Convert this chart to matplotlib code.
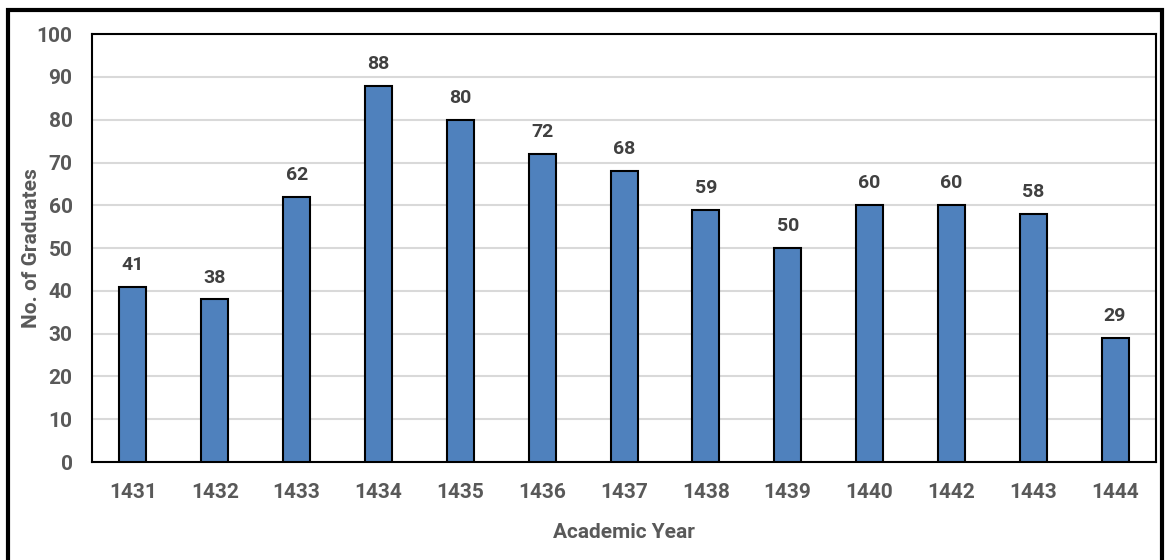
import matplotlib.pyplot as plt
import numpy as np
from matplotlib.patches import Rectangle

# chart data
years = ['1431', '1432', '1433', '1434', '1435', '1436', '1437',
         '1438', '1439', '1440', '1442', '1443', '1444']
graduates = [41, 38, 62, 88, 80, 72, 68, 59, 50, 60, 60, 58, 29]

plt.rcParams['font.family'] = ['Roboto', 'DejaVu Sans']
grey = '#595959'

fig = plt.figure(figsize=(11.68, 5.6), dpi=100)
ax = fig.add_axes([0.0788, 0.175, 0.9109, 0.764])

x = np.arange(len(years))
ax.bar(x, graduates, width=0.33, color='#4F81BD', edgecolor='black', linewidth=1.5, zorder=3)

for xi, v in zip(x, graduates):
    ax.text(xi, v + 3, str(v), ha='center', va='bottom', fontsize=14,
            fontweight='bold', color='#404040')

ax.set_xlim(-0.5, len(years) - 0.5)
ax.set_ylim(0, 100)
ax.set_yticks(range(0, 101, 10))
ax.set_xticks(x)
ax.set_xticklabels(years)
ax.yaxis.grid(True, color='#D9D9D9', linewidth=1.5, zorder=0)
ax.tick_params(axis='both', length=0, labelsize=15, labelcolor=grey)
ax.tick_params(axis='x', pad=15)
ax.tick_params(axis='y', pad=14)
for lbl in ax.get_xticklabels() + ax.get_yticklabels():
    lbl.set_fontweight('bold')
for s in ax.spines.values():
    s.set_color('black')
    s.set_linewidth(1.5)

ax.set_xlabel('Academic Year', fontsize=15, fontweight='bold', color=grey, labelpad=15)
ax.set_ylabel('No. of Graduates', fontsize=15, fontweight='bold', color=grey)
ax.yaxis.set_label_coords(-0.048, 0.5)

# outer frame
fig.patches.append(Rectangle((8 / 1168, -0.05), 1154 / 1168, 1.05 - 10 / 560,
                             transform=fig.transFigure, fill=False,
                             edgecolor='black', linewidth=3))

plt.savefig('out.png', dpi=100)
